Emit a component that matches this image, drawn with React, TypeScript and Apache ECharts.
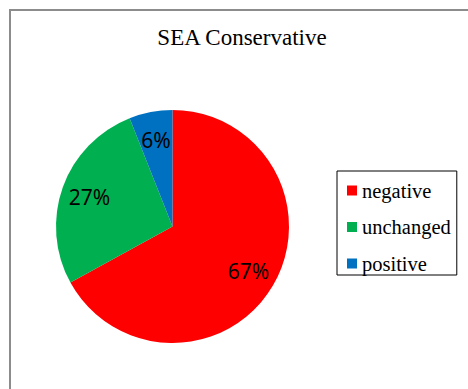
import React, { useEffect, useRef } from "react";
import * as echarts from "echarts";

const categories = ["negative", "unchanged", "positive"];
const values = [67, 27, 6];
const colors = ["#FF0000", "#00B050", "#0070C0"];
const titleText = "SEA Conservative";

export default function App() {
  const ref = useRef<HTMLDivElement>(null);
  useEffect(() => {
    if (!ref.current) return;
    const chart = echarts.init(ref.current, null, { renderer: "svg" });
    const data = categories.map((name, i) => ({
      name,
      value: values[i],
      itemStyle: { color: colors[i] },
    }));
    chart.setOption({
      animation: false,
      backgroundColor: "#fff",
      title: {
        text: titleText,
        left: 242,
        top: 26,
        padding: 0,
        textAlign: "center",
        textStyle: {
          fontFamily: "Liberation Serif",
          fontWeight: "normal",
          fontSize: 23,
          color: "#000",
        },
      },
      legend: {
        orient: "vertical",
        left: 337,
        top: 171,
        padding: [9, 6, 1, 10],
        itemWidth: 10,
        itemHeight: 10,
        itemGap: 15.5,
        icon: "rect",
        borderColor: "#000",
        borderWidth: 1,
        data: categories,
        textStyle: {
          fontFamily: "Liberation Serif",
          fontSize: 20.5,
          lineHeight: 20,
          color: "#000",
        },
      },
      graphic: [
        {
          type: "rect",
          shape: { x: 10, y: 10, width: 520, height: 420 },
          style: { fill: "none", stroke: "#8c8c8c", lineWidth: 2 },
          silent: true,
        },
      ],
      series: [
        {
          type: "pie",
          center: [172.5, 226.5],
          radius: [0, 116.5],
          startAngle: 90,
          clockwise: true,
          data,
          label: { show: false },
          labelLine: { show: false },
          itemStyle: { borderWidth: 0 },
          emphasis: { disabled: true },
        },
        {
          type: "pie",
          center: [172.5, 226.5],
          radius: [54, 116.5],
          startAngle: 90,
          clockwise: true,
          silent: true,
          data: categories.map((name, i) => ({ name, value: values[i] })),
          itemStyle: { color: "rgba(0,0,0,0)", borderWidth: 0 },
          label: {
            show: true,
            position: "inside",
            formatter: "{d}%",
            fontFamily: "Noto Sans",
            fontSize: 21,
            color: "#000",
          },
          labelLine: { show: false },
          emphasis: { disabled: true },
        },
      ],
    });
    return () => chart.dispose();
  }, []);
  return (
    <div
      ref={ref}
      style={{ position: "fixed", left: 0, top: 0, width: 468, height: 389 }}
    />
  );
}
